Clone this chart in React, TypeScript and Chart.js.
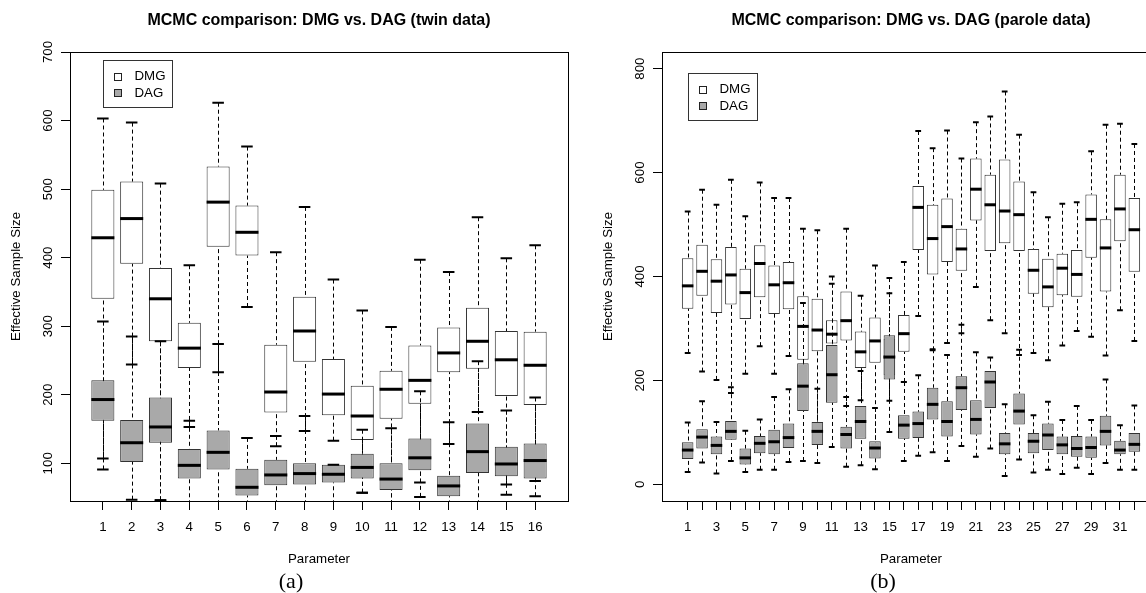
import React, { useEffect, useRef } from 'react';
import { Chart, registerables } from 'chart.js';

Chart.register(...registerables);

const FONT = '"Liberation Sans", Arial, Helvetica, sans-serif';
const SERIF = '"Liberation Serif", "Times New Roman", serif';
const SERIES_NAMES = ['DMG', 'DAG'];
const SERIES_FILLS = ['#ffffff', '#a9a9a9'];

// ---------- (a) twin data ----------
const twinParams = [1, 2, 3, 4, 5, 6, 7, 8, 9, 10, 11, 12, 13, 14, 15, 16];
const twinTickLabels = ['1', '2', '3', '4', '5', '6', '7', '8', '9', '10', '11', '12', '13', '14', '15', '16'];
const twinYTicks = [100, 200, 300, 400, 500, 600, 700];
const twinDmgLow = [107, 244, 46, 153, 233, 328, 125, 147, 133, 57, 40, 72, 128, 175, 69, 74];
const twinDmgQ1 = [340, 391, 278, 239, 416, 403, 174, 248, 170, 134, 165, 187, 233, 238, 198, 185];
const twinDmgMed = [429, 457, 340, 268, 481, 437, 204, 293, 201, 169, 208, 221, 261, 278, 251, 243];
const twinDmgQ3 = [499, 511, 385, 305, 533, 476, 273, 343, 252, 213, 235, 272, 298, 327, 293, 292];
const twinDmgHigh = [603, 597, 508, 389, 626, 562, 408, 474, 368, 323, 299, 397, 379, 459, 399, 418];
const twinDagLow = [91, 47, 46, 30, 30, 40, 30, 30, 30, 57, 30, 51, 40, 30, 54, 52];
const twinDagQ1 = [162, 102, 130, 78, 91, 53, 68, 69, 72, 78, 61, 90, 52, 86, 81, 78];
const twinDagMed = [193, 130, 153, 97, 116, 65, 83, 85, 84, 94, 77, 108, 67, 117, 99, 104];
const twinDagQ3 = [221, 163, 196, 121, 148, 92, 105, 100, 98, 114, 100, 136, 82, 158, 124, 129];
const twinDagHigh = [307, 285, 278, 162, 274, 137, 140, 169, 98, 149, 151, 205, 160, 249, 177, 196];

// ---------- (b) parole data ----------
const paroleParams = [1, 2, 3, 4, 5, 6, 7, 8, 9, 10, 11, 12, 13, 14, 15, 16, 17, 18, 19, 20, 21, 22, 23, 24, 25, 26, 27, 28, 29, 30, 31, 32];
const paroleTickLabels = ['1', '', '3', '', '5', '', '7', '', '9', '', '11', '', '13', '', '15', '', '17', '', '19', '', '21', '', '23', '', '25', '', '27', '', '29', '', '31', ''];
const paroleYTicks = [0, 200, 400, 600, 800];
const paroleDmgLow = [253, 217, 201, 176, 213, 266, 213, 247, 200, 100, 180, 151, 162, 60, 161, 197, 324, 258, 272, 291, 380, 316, 291, 249, 253, 239, 267, 295, 284, 248, 335, 276];
const paroleDmgQ1 = [338, 363, 330, 346, 318, 360, 328, 337, 240, 256, 271, 277, 224, 234, 210, 255, 451, 404, 428, 411, 508, 449, 464, 449, 367, 341, 364, 361, 436, 371, 468, 409];
const paroleDmgMed = [382, 410, 391, 403, 369, 425, 384, 388, 304, 297, 289, 315, 255, 276, 245, 290, 533, 473, 496, 453, 568, 538, 526, 519, 412, 380, 416, 404, 510, 455, 530, 490];
const paroleDmgQ3 = [435, 461, 433, 457, 415, 460, 421, 428, 362, 357, 316, 371, 294, 321, 280, 326, 574, 538, 550, 492, 627, 596, 625, 583, 453, 434, 444, 451, 558, 510, 596, 551];
const paroleDmgHigh = [525, 567, 538, 586, 516, 581, 551, 551, 492, 489, 400, 492, 363, 421, 397, 428, 680, 647, 681, 627, 697, 708, 756, 673, 562, 514, 540, 543, 641, 692, 694, 655];
const paroleDagLow = [24, 42, 21, 45, 24, 28, 28, 43, 45, 41, 72, 34, 37, 29, 101, 45, 55, 62, 45, 74, 53, 69, 16, 48, 23, 28, 20, 32, 20, 41, 28, 28];
const paroleDagQ1 = [49, 69, 58, 86, 38, 60, 58, 70, 141, 76, 157, 69, 88, 50, 202, 88, 89, 125, 92, 143, 96, 147, 58, 115, 60, 66, 58, 53, 51, 75, 58, 63];
const paroleDagMed = [66, 91, 75, 102, 51, 79, 82, 90, 189, 102, 211, 96, 121, 70, 245, 114, 117, 154, 121, 186, 125, 197, 78, 141, 83, 95, 76, 69, 71, 102, 66, 77];
const paroleDagQ3 = [81, 106, 92, 122, 69, 93, 105, 117, 233, 120, 268, 111, 151, 83, 287, 133, 140, 186, 160, 208, 162, 218, 99, 175, 99, 117, 92, 93, 92, 132, 84, 99];
const paroleDagHigh = [119, 160, 120, 187, 103, 125, 168, 183, 349, 184, 386, 168, 218, 147, 368, 197, 210, 260, 249, 307, 254, 244, 154, 259, 133, 159, 124, 151, 124, 202, 114, 152];

type Stats = { low: number[]; q1: number[]; med: number[]; q3: number[]; high: number[] };

type PanelProps = {
  left: number;
  title: string;
  caption: string;
  params: number[];
  tickLabels: string[];
  xMin: number;
  xMax: number;
  yMin: number;
  yMax: number;
  yTicks: number[];
  legendTop: number;
  series: Stats[];
};

const CW = 592;
const CH = 593;

function BoxPanel(props: PanelProps) {
  const ref = useRef<HTMLCanvasElement>(null);

  useEffect(() => {
    const canvas = ref.current;
    if (!canvas) return;
    const p = props;

    const boxPlugin = {
      id: 'boxExtras',
      afterDatasetDraw(chart: any, args: any) {
        const ds: any = chart.data.datasets[args.index];
        const st: Stats = ds.stats;
        const meta = args.meta;
        const xs = chart.scales.x;
        const ys = chart.scales.y;
        const area = chart.chartArea;
        const ctx: CanvasRenderingContext2D = chart.ctx;
        ctx.save();
        ctx.beginPath();
        ctx.rect(area.left, area.top, area.right - area.left, area.bottom - area.top);
        ctx.clip();
        ctx.strokeStyle = '#000';
        p.params.forEach((param, i) => {
          const xc = xs.getPixelForValue(param);
          const x = Math.round(xc) + 0.5;
          const w = meta.data[i].width;
          const yLo = ys.getPixelForValue(st.low[i]);
          const yQ1 = ys.getPixelForValue(st.q1[i]);
          const yMed = ys.getPixelForValue(st.med[i]);
          const yQ3 = ys.getPixelForValue(st.q3[i]);
          const yHi = ys.getPixelForValue(st.high[i]);
          // whiskers (dashed), drawn from the end toward the box
          ctx.setLineDash([4, 3]);
          ctx.lineWidth = 1;
          ctx.beginPath();
          ctx.moveTo(x, yLo);
          ctx.lineTo(x, yQ1);
          ctx.moveTo(x, yHi);
          ctx.lineTo(x, yQ3);
          ctx.stroke();
          // staples
          ctx.setLineDash([]);
          ctx.lineWidth = 2;
          ctx.beginPath();
          ctx.moveTo(xc - w / 4, yLo);
          ctx.lineTo(xc + w / 4, yLo);
          ctx.moveTo(xc - w / 4, yHi);
          ctx.lineTo(xc + w / 4, yHi);
          ctx.stroke();
          // median
          ctx.lineWidth = 3;
          ctx.beginPath();
          ctx.moveTo(xc - w / 2, yMed);
          ctx.lineTo(xc + w / 2, yMed);
          ctx.stroke();
        });
        ctx.restore();
      },
      afterDraw(chart: any) {
        const ctx: CanvasRenderingContext2D = chart.ctx;
        const area = chart.chartArea;
        const xs = chart.scales.x;
        const ys = chart.scales.y;
        ctx.save();
        // frame
        ctx.strokeStyle = '#000';
        ctx.lineWidth = 1;
        ctx.setLineDash([]);
        ctx.strokeRect(Math.round(area.left) + 0.5, Math.round(area.top) + 0.5,
          Math.round(area.right - area.left), Math.round(area.bottom - area.top));
        // rotated y tick labels
        ctx.fillStyle = '#000';
        ctx.font = `13.3px ${FONT}`;
        ctx.textAlign = 'center';
        ctx.textBaseline = 'middle';
        ys.ticks.forEach((t: any) => {
          const y = ys.getPixelForValue(t.value);
          ctx.save();
          ctx.translate(area.left - 22, y);
          ctx.rotate(-Math.PI / 2);
          ctx.fillText(String(t.value), 0, 0);
          ctx.restore();
        });
        // legend
        const lx = Math.round(xs.getPixelForValue(1)) + 0.5;
        const ly = Math.round(ys.getPixelForValue(p.legendTop)) + 0.5;
        ctx.strokeStyle = '#333';
        ctx.strokeRect(lx, ly, 69, 47);
        ctx.textAlign = 'left';
        SERIES_NAMES.forEach((name, k) => {
          const cy = ly + 16 + k * 16.5;
          ctx.fillStyle = SERIES_FILLS[k];
          ctx.fillRect(lx + 11, Math.round(cy - 4) + 0.5, 7, 7);
          ctx.strokeStyle = '#222';
          ctx.strokeRect(lx + 11, Math.round(cy - 4) + 0.5, 7, 7);
          ctx.fillStyle = '#000';
          ctx.fillText(name, lx + 31, cy);
        });
        // caption
        ctx.font = `22px ${SERIF}`;
        ctx.textAlign = 'center';
        ctx.fillText(p.caption, 291, 582);
        ctx.restore();
      },
    };

    const datasets = p.series.map((st, k) => ({
      label: SERIES_NAMES[k],
      data: p.params.map((x, i) => ({ x, y: [st.q1[i], st.q3[i]] })),
      backgroundColor: SERIES_FILLS[k],
      borderColor: '#333',
      borderWidth: 1,
      borderSkipped: false,
      grouped: false,
      barPercentage: 0.8,
      categoryPercentage: 1,
      order: p.series.length - k,
      stats: st,
    }));

    const chart = new Chart(canvas, {
      type: 'bar',
      data: { datasets: datasets as any },
      options: {
        animation: false,
        responsive: false,
        events: [],
        layout: { padding: { left: 0, right: 24, top: 0, bottom: 0 } },
        plugins: {
          legend: { display: false },
          tooltip: { enabled: false },
          title: {
            display: true,
            text: p.title,
            fullSize: false,
            color: '#000',
            font: { family: FONT, size: 16, weight: 'bold' },
            padding: { top: 11, bottom: 21.8 },
          },
        },
        scales: {
          x: {
            type: 'linear',
            min: p.xMin,
            max: p.xMax,
            offset: false,
            afterBuildTicks: (s: any) => {
              s.ticks = p.params.map((v) => ({ value: v }));
            },
            afterFit: (s: any) => {
              s.height = 92;
            },
            grid: {
              display: true,
              offset: false,
              drawOnChartArea: false,
              drawTicks: true,
              tickLength: 9,
              color: '#000',
              tickColor: '#000',
              lineWidth: 1,
            },
            border: { display: false },
            ticks: {
              autoSkip: false,
              maxRotation: 0,
              minRotation: 0,
              padding: 9,
              color: '#000',
              font: { family: FONT, size: 13.3 },
              callback: (_v: any, i: number) => p.tickLabels[i],
            },
            title: {
              display: true,
              text: 'Parameter',
              color: '#000',
              font: { family: FONT, size: 13.3 },
              padding: { top: 0, bottom: 26 },
            },
          },
          y: {
            type: 'linear',
            min: p.yMin,
            max: p.yMax,
            beginAtZero: false,
            afterBuildTicks: (s: any) => {
              s.ticks = p.yTicks.map((v) => ({ value: v }));
            },
            afterFit: (s: any) => {
              s.width = 70;
            },
            grid: {
              display: true,
              drawOnChartArea: false,
              drawTicks: true,
              tickLength: 9,
              color: '#000',
              tickColor: '#000',
              lineWidth: 1,
            },
            border: { display: false },
            ticks: { display: false },
            title: {
              display: true,
              text: 'Effective Sample Size',
              color: '#000',
              font: { family: FONT, size: 13.3 },
              padding: { top: 8, bottom: 0 },
            },
          },
        },
      } as any,
      plugins: [boxPlugin],
    });
    return () => chart.destroy();
  }, []);

  return (
    <canvas
      ref={ref}
      width={CW}
      height={CH}
      style={{ position: 'absolute', left: props.left, top: 0, width: CW, height: CH }}
    />
  );
}

export default function App() {
  const twinSeries: Stats[] = [
    { low: twinDmgLow, q1: twinDmgQ1, med: twinDmgMed, q3: twinDmgQ3, high: twinDmgHigh },
    { low: twinDagLow, q1: twinDagQ1, med: twinDagMed, q3: twinDagQ3, high: twinDagHigh },
  ];
  const paroleSeries: Stats[] = [
    { low: paroleDmgLow, q1: paroleDmgQ1, med: paroleDmgMed, q3: paroleDmgQ3, high: paroleDmgHigh },
    { low: paroleDagLow, q1: paroleDagQ1, med: paroleDagMed, q3: paroleDagQ3, high: paroleDagHigh },
  ];
  return (
    <div
      style={{
        position: 'absolute',
        left: 0,
        top: 0,
        width: 1146,
        height: 593,
        overflow: 'hidden',
        background: '#fff',
      }}
    >
      <BoxPanel
        left={0}
        title="MCMC comparison: DMG vs. DAG (twin data)"
        caption="(a)"
        params={twinParams}
        tickLabels={twinTickLabels}
        xMin={-0.14}
        xMax={17.14}
        yMin={45}
        yMax={700}
        yTicks={twinYTicks}
        legendTop={689}
        series={twinSeries}
      />
      <BoxPanel
        left={592}
        title="MCMC comparison: DMG vs. DAG (parole data)"
        caption="(b)"
        params={paroleParams}
        tickLabels={paroleTickLabels}
        xMin={-0.78}
        xMax={33.78}
        yMin={-32}
        yMax={832}
        yTicks={paroleYTicks}
        legendTop={791}
        series={paroleSeries}
      />
    </div>
  );
}
